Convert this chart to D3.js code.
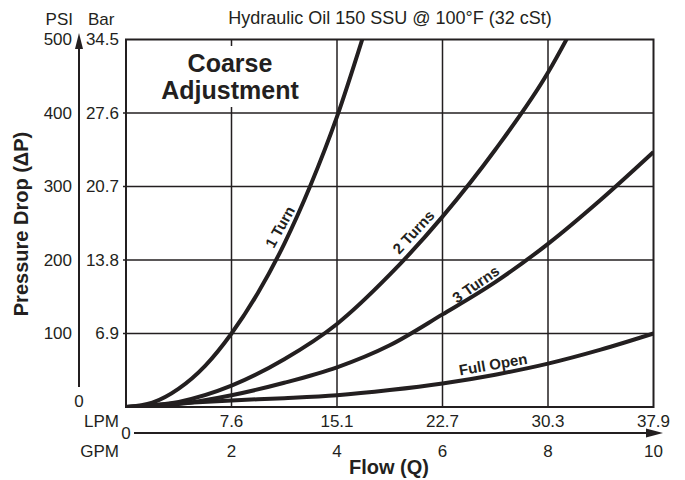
<!DOCTYPE html>
<html>
<head>
<meta charset="utf-8">
<script src="https://cdn.jsdelivr.net/npm/d3@7"></script>
<style>
  body { margin: 0; background: #fff; }
  text { font-family: "Liberation Sans", Arial, Helvetica, sans-serif; fill: #231f20; }
</style>
</head>
<body>
<svg id="chart"></svg>
<script>
// values (flow in GPM, pressure drop in PSI)
const flowOneTurn = [0, 0.5, 1, 1.5, 2, 2.5, 3, 3.5, 4, 4.5];
const psiOneTurn = [0, 6, 25, 56, 100, 155, 222, 302, 395, 505];

const flowTwoTurns = [0, 1, 2, 3, 4, 5, 6, 7, 8, 8.5];
const psiTwoTurns = [0, 7, 29, 65, 113, 180, 259, 350, 455, 520];

const flowThreeTurns = [0, 1, 2, 3, 4, 5, 6, 7, 8, 9, 10];
const psiThreeTurns = [0, 4, 16, 33, 54, 84, 126, 170, 222, 282, 347];

const flowFullOpen = [0, 1, 2, 3, 4, 5, 6, 7, 8, 9, 10];
const psiFullOpen = [0, 5, 9, 12, 16, 23, 32, 44, 59, 78, 100];

const seriesNames = ["1 Turn", "2 Turns", "3 Turns", "Full Open"];

const psiTicks = [100, 200, 300, 400, 500];
const barLabels = ["6.9", "13.8", "20.7", "27.6", "34.5"];
const gpmTicks = [2, 4, 6, 8, 10];
const lpmLabels = ["7.6", "15.1", "22.7", "30.3", "37.9"];

const ink = "#231f20";
const width = 685, height = 480;
const plotLeft = 126, plotRight = 653.5, plotTop = 39.5, plotBottom = 407;

const svg = d3.select('svg#chart')
    .attr('width', width)
    .attr('height', height);

const x = d3.scaleLinear().domain([0, 10]).range([plotLeft, plotRight]);
const y = d3.scaleLinear().domain([0, 500]).range([plotBottom, plotTop]);

svg.append('defs').append('clipPath').attr('id', 'plot-clip')
    .append('rect')
    .attr('x', plotLeft).attr('y', plotTop)
    .attr('width', plotRight - plotLeft).attr('height', plotBottom - plotTop);

// grid
const grid = svg.append('g').attr('stroke', ink).attr('stroke-width', 1.5);
grid.selectAll('line.v').data(gpmTicks.slice(0, -1)).enter().append('line')
    .attr('x1', d => x(d)).attr('x2', d => x(d))
    .attr('y1', plotTop).attr('y2', plotBottom);
grid.selectAll('line.h').data(psiTicks.slice(0, -1)).enter().append('line')
    .attr('x1', plotLeft).attr('x2', plotRight)
    .attr('y1', d => y(d)).attr('y2', d => y(d));
grid.selectAll('line.t').data(psiTicks.slice(0, -1)).enter().append('line')
    .attr('x1', plotLeft - 3).attr('x2', plotLeft)
    .attr('y1', d => y(d)).attr('y2', d => y(d));

// white box behind the heading
svg.append('rect')
    .attr('x', 154).attr('y', 46).attr('width', 154).attr('height', 61)
    .attr('fill', '#fff');

svg.append('rect')
    .attr('x', plotLeft).attr('y', plotTop)
    .attr('width', plotRight - plotLeft).attr('height', plotBottom - plotTop)
    .attr('fill', 'none').attr('stroke', ink).attr('stroke-width', 2);

svg.selectAll('text.heading').data(['Coarse', 'Adjustment']).enter().append('text')
    .classed('heading', true)
    .attr('x', 230).attr('y', (d, i) => 72 + i * 27)
    .attr('text-anchor', 'middle')
    .attr('font-weight', 'bold')
    .attr('font-size', 25)
    .text(d => d);

// curves
const series = [
    { name: seriesNames[0], flow: flowOneTurn, psi: psiOneTurn, lx: 2.92, ly: 245, rot: -61 },
    { name: seriesNames[1], flow: flowTwoTurns, psi: psiTwoTurns, lx: 5.45, ly: 238, rot: -47 },
    { name: seriesNames[2], flow: flowThreeTurns, psi: psiThreeTurns, lx: 6.63, ly: 167, rot: -35 },
    { name: seriesNames[3], flow: flowFullOpen, psi: psiFullOpen, lx: 6.96, ly: 58, rot: -10 }
];

const line = d3.line()
    .x(d => x(d[0]))
    .y(d => y(d[1]))
    .curve(d3.curveMonotoneX);

svg.append('g').attr('clip-path', 'url(#plot-clip)')
    .selectAll('path').data(series).enter().append('path')
    .attr('d', s => line(s.flow.map((f, i) => [f, s.psi[i]])))
    .attr('fill', 'none')
    .attr('stroke', ink)
    .attr('stroke-width', 4);

svg.selectAll('text.curve-label').data(series).enter().append('text')
    .classed('curve-label', true)
    .attr('transform', s => `translate(${x(s.lx)},${y(s.ly)}) rotate(${s.rot})`)
    .attr('text-anchor', 'middle')
    .attr('dy', '0.35em')
    .attr('font-weight', 'bold')
    .attr('font-size', 15)
    .text(s => s.name);

// left axis (PSI / Bar)
const axisX = 79;
svg.append('line')
    .attr('x1', axisX).attr('x2', axisX)
    .attr('y1', 387).attr('y2', 46)
    .attr('stroke', ink).attr('stroke-width', 2);
svg.append('path')
    .attr('d', `M${axisX},33 L${axisX - 4},49 L${axisX + 4},49 Z`)
    .attr('fill', ink);

svg.selectAll('text.psi').data(psiTicks).enter().append('text')
    .attr('x', 72).attr('y', d => y(d)).attr('dy', '0.35em')
    .attr('text-anchor', 'end').attr('font-size', 17)
    .text(d => d);
svg.selectAll('text.bar').data(psiTicks).enter().append('text')
    .attr('x', 119).attr('y', d => y(d)).attr('dy', '0.35em')
    .attr('text-anchor', 'end').attr('font-size', 17)
    .text((d, i) => barLabels[i]);
svg.append('text').attr('x', axisX).attr('y', 401).attr('dy', '0.35em')
    .attr('text-anchor', 'middle').attr('font-size', 17).text('0');

svg.append('text').attr('x', 73).attr('y', 25).attr('text-anchor', 'end')
    .attr('font-size', 17).text('PSI');
svg.append('text').attr('x', 88).attr('y', 25)
    .attr('font-size', 17).text('Bar');

svg.append('text')
    .attr('transform', 'translate(28,224) rotate(-90)')
    .attr('text-anchor', 'middle')
    .attr('font-weight', 'bold').attr('font-size', 20)
    .text('Pressure Drop (\u0394P)');

// bottom axis (LPM / GPM)
const arrowY = 433;
svg.append('line')
    .attr('x1', 134).attr('x2', 650)
    .attr('y1', arrowY).attr('y2', arrowY)
    .attr('stroke', ink).attr('stroke-width', 2);
svg.append('path')
    .attr('d', `M663,${arrowY} L646,${arrowY - 4.5} L646,${arrowY + 4.5} Z`)
    .attr('fill', ink);

svg.selectAll('text.lpm').data(gpmTicks).enter().append('text')
    .attr('x', d => x(d)).attr('y', 427)
    .attr('text-anchor', 'middle').attr('font-size', 17)
    .text((d, i) => lpmLabels[i]);
svg.selectAll('text.gpm').data(gpmTicks).enter().append('text')
    .attr('x', d => x(d)).attr('y', 457)
    .attr('text-anchor', 'middle').attr('font-size', 17)
    .text(d => d);
svg.append('text').attr('x', 126).attr('y', 439)
    .attr('text-anchor', 'middle').attr('font-size', 17).text('0');
svg.append('text').attr('x', 119).attr('y', 427)
    .attr('text-anchor', 'end').attr('font-size', 17).text('LPM');
svg.append('text').attr('x', 119).attr('y', 457)
    .attr('text-anchor', 'end').attr('font-size', 17).text('GPM');

svg.append('text')
    .attr('x', 389).attr('y', 474)
    .attr('text-anchor', 'middle')
    .attr('font-weight', 'bold').attr('font-size', 20)
    .text('Flow (Q)');

svg.append('text')
    .attr('x', 390).attr('y', 24)
    .attr('text-anchor', 'middle').attr('font-size', 18)
    .text('Hydraulic Oil 150 SSU @ 100\u00b0F (32 cSt)');
</script>
</body>
</html>
